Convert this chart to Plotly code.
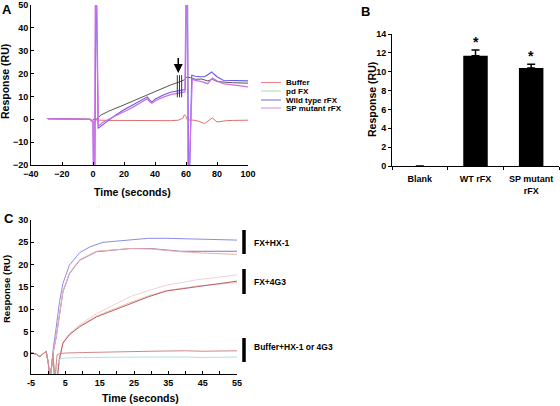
import plotly.graph_objects as go

W, H = 560, 406
FONT = "Liberation Sans"

def px(x):
    return x / W

def py(y):
    return 1 - y / H

# ---------------- Panel A data ----------------
buffer_t = [-30, -20, -10, -2, 0, 1, 2, 5, 10, 20, 30, 40, 50, 55, 58, 59, 60, 61, 62, 65, 68, 72, 75, 77, 80, 83, 86, 90, 95, 100]
buffer_v = [0.3, 0.2, 0.2, 0.1, -0.5, 0, -0.3, -0.4, -0.5, -0.5, -0.6, -0.8, -0.6, -0.4, 0.5, 2.0, 1.2, -0.5, -0.3, -0.4, -0.8, -1.9, -0.5, 0.6, -1.2, -0.8, -0.6, -0.5, -0.5, -0.4]

pdfx_t = [0, 2.4, 5, 10, 20, 30, 41, 50, 56, 59, 60.5, 63, 66, 70, 74, 77, 80, 85, 90, 100]
pdfx_v = [0, 0.2, 1.8, 3.5, 6.3, 9.2, 12.5, 15.0, 16.4, 17.3, 18.5, 18.2, 17.5, 17.6, 16.8, 17.5, 16.5, 16.2, 16.0, 15.8]

wt_t = [-29, -10, -2, -0.5, 0, 0.3, 1.2, 1.8, 2.2, 3.3, 6, 10, 15, 20, 25, 30, 35, 36.5, 38, 40, 45, 50, 54, 58.5, 59.5, 60.3, 61, 61.6, 62.3, 63.7, 66, 69, 72, 74, 76.6, 78, 80, 84, 90, 95, 100]
wt_v = [0.2, 0.1, 0, -1, -1, -25, -25, 55, 55, -4, -2.5, -0.5, 2, 4.2, 6, 7.8, 9.8, 8.5, 7.5, 8.8, 10.5, 11.8, 12.3, 12.8, 13, 55, 55, -25, -25, 19.3, 18.8, 18.6, 18.6, 19.5, 20.7, 19.8, 18.6, 17.1, 17, 17, 16.8]

sp_t = [-29, -10, -2, -0.5, 0, 0.4, 1.0, 1.5, 2.3, 3.5, 6, 10, 15, 20, 25, 30, 35, 36.5, 38, 40, 45, 50, 54, 58.5, 59.3, 60, 60.8, 61.3, 62, 64, 66, 70, 74, 77, 80, 84, 90, 95, 100]
sp_v = [0.3, 0.2, 0, -1, -1, -25, -25, 55, 55, -3, -1.5, 0, 1.5, 3.3, 5, 7, 9, 7.8, 7, 8, 9.6, 10.8, 11.3, 11.8, 12, 55, 55, -25, -25, 17.6, 17, 16.5, 15.6, 18, 16.8, 15.6, 15, 14.6, 14.2]

legend_names = ["Buffer", "pd FX", "Wild type rFX", "SP mutant rFX"]
legend_colors = ["#f08080", "#a8d8a0", "#6a6ae0", "#e080f0"]

# ---------------- Panel B data ----------------
b_cats = ["Blank", "WT rFX", "SP mutant<br>rFX"]
b_vals = [0, 11.7, 10.4]
b_errs = [None, 0.6, 0.4]
b_sig = ["", "*", "*"]

# ---------------- Panel C data ----------------
pre_t = [-5, -4.2, -3.4, -2.4, -1.4, -0.6, 0.05, 0.5, 1.0]
pre_v = [0.3, 0.1, -0.1, -0.6, 0.2, 0.6, -2.1, -6, -2.8]

hx1_t = pre_t + [1.5, 2.3, 3.3, 4.3, 6.2, 9.2, 12.2, 16, 23.8, 29.2, 34.5, 43.3, 55]
hx1_v = pre_v + [1.3, 5.7, 11.7, 15.8, 19.9, 22.7, 24.0, 25.0, 25.6, 25.9, 25.9, 25.7, 25.5]

hx2_t = pre_t + [1.5, 2.3, 3.3, 4.3, 6.2, 9.2, 14.1, 19.9, 23.8, 30, 38.4, 45, 55]
hx2_v = pre_v + [0.5, 3.5, 9.0, 13.9, 18.0, 21.0, 22.9, 23.4, 23.6, 23.6, 23.0, 23.0, 23.0]

hx3_t = pre_t + [1.5, 2.3, 3.3, 4.3, 6.2, 9.2, 14.1, 19.9, 23.8, 30, 38.4, 45, 55]
hx3_v = pre_v + [0.5, 3.6, 9.2, 14.0, 18.1, 21.1, 23.0, 23.4, 23.6, 23.5, 22.9, 22.6, 22.3]

g4_t = pre_t + [1.4, 1.9, 2.6, 3.2, 4.3, 6.2, 9.2, 14.1, 19, 23.8, 29.2, 34.5, 43.3, 55]
g4a_v = pre_v + [0, -6, -6, -1.5, 2.4, 4.3, 6.1, 8.3, 9.8, 11.3, 12.8, 14.1, 15.1, 16.3]
g4b_v = pre_v + [0, -6, -6, -1.3, 2.6, 4.6, 6.6, 9.0, 10.9, 12.8, 14.2, 15.4, 16.6, 17.7]
g4c_v = pre_v + [0, -6, -6, -1.4, 2.5, 4.4, 6.3, 8.5, 10.1, 11.5, 13.0, 14.2, 15.2, 16.0]

buf_t = pre_t + [1.4, 1.9, 2.6, 3.5, 5, 10, 20, 30, 40, 45, 55]
bufa_v = pre_v + [0, -6, -0.2, 0.1, 0.2, 0.3, 0.5, 0.6, 0.7, 0.6, 0.7]
bufb_v = pre_v + [0, -6, -2.5, -1.1, -0.9, -0.8, -0.7, -0.7, -0.7, -0.8, -0.7]

c_series = [
    (hx1_t, hx1_v, "#8c8ce8"),
    (hx2_t, hx2_v, "#9a6ab8"),
    (hx3_t, hx3_v, "#e8b0b0"),
    (g4_t, g4b_v, "#f4d0d8"),
    (g4_t, g4c_v, "#f0c8a8"),
    (g4_t, g4a_v, "#b86070"),
    (buf_t, bufb_v, "#b0e0e0"),
    (buf_t, bufa_v, "#d08888"),
]
c_groups = ["FX+HX-1", "FX+4G3", "Buffer+HX-1 or 4G3"]

fig = go.Figure()

# Panel A traces
fig.add_trace(go.Scatter(x=buffer_t, y=buffer_v, mode="lines", line=dict(color="#e07070", width=1), xaxis="x", yaxis="y", showlegend=False))
fig.add_trace(go.Scatter(x=pdfx_t, y=pdfx_v, mode="lines", line=dict(color="#555555", width=1), xaxis="x", yaxis="y", showlegend=False))
fig.add_trace(go.Scatter(x=wt_t, y=wt_v, mode="lines", line=dict(color="#6a5ae0", width=1.1), xaxis="x", yaxis="y", showlegend=False))
fig.add_trace(go.Scatter(x=sp_t, y=sp_v, mode="lines", line=dict(color="#d070e8", width=1.3), xaxis="x", yaxis="y", showlegend=False))

# Panel B
fig.add_trace(go.Bar(x=b_cats, y=b_vals, marker=dict(color="black", line=dict(width=0)), width=0.44,
                     error_y=dict(type="data", array=b_errs, arrayminus=[None, 0, 0], color="black", thickness=1.5, width=4),
                     xaxis="x2", yaxis="y2", showlegend=False))

# Panel C
for t, v, col in c_series:
    fig.add_trace(go.Scatter(x=t, y=v, mode="lines", line=dict(color=col, width=1), xaxis="x3", yaxis="y3", showlegend=False))

tickfont = dict(family=FONT, size=9, color="black", weight="bold")
axis_common = dict(showline=True, linecolor="black", linewidth=1, showgrid=False, zeroline=False, automargin=False,
                   tickfont=tickfont, tickcolor="black", ticklen=3, tickwidth=1)

fig.update_layout(
    width=W, height=H, margin=dict(l=0, r=0, t=0, b=0, autoexpand=False),
    paper_bgcolor="white", plot_bgcolor="white", hovermode=False,
    xaxis=dict(domain=[px(31), px(248)], range=[-40, 100], tickvals=list(range(-40, 101, 20)), ticks="inside", anchor="y", **axis_common),
    yaxis=dict(domain=[py(165), py(5)], range=[-20, 50], tickvals=list(range(-20, 51, 10)), ticks="inside", anchor="x", **axis_common),
    xaxis2=dict(domain=[px(392), px(559)], type="category", range=[-0.5, 2.5], ticks="outside", tickson="boundaries",
                ticklabelstandoff=4, anchor="y2", **axis_common),
    yaxis2=dict(domain=[py(166), py(34)], range=[0, 14], tickvals=list(range(0, 15, 2)), ticks="outside", anchor="x2", **axis_common),
    xaxis3=dict(domain=[px(31), px(237)], range=[-5, 55], tickvals=list(range(-5, 56, 5)),
                ticktext=[str(v) if (v + 5) % 10 == 0 else "" for v in range(-5, 56, 5)], ticks="inside", anchor="y3", **axis_common),
    yaxis3=dict(domain=[py(374), py(220)], range=[-4.5, 30], tickvals=list(range(0, 31, 5)), ticks="inside", anchor="x3", **axis_common),
)

ann = []
def text(x, y, s, size=9, xanchor="center", yanchor="middle", angle=0):
    ann.append(dict(x=px(x), y=py(y), xref="paper", yref="paper", text=s, showarrow=False,
                    xanchor=xanchor, yanchor=yanchor, textangle=angle,
                    font=dict(family=FONT, size=size, color="black", weight="bold")))

# panel letters
text(0, 9, "A", size=13, xanchor="left")
text(359, 11, "B", size=13, xanchor="left")
text(2, 218, "C", size=13, xanchor="left")

# axis titles
text(5, 82, "Response (RU)", size=10.5, angle=-90)
text(132, 192, "Time (seconds)", size=10.5)
text(372, 100, "Response (RU)", size=10.5, angle=-90)
text(6, 289, "Response (RU)", size=9.5, angle=-90)
text(140, 398, "Time (seconds)", size=10.5)

# asterisks
for c, v, e, s in zip(b_cats, b_vals, b_errs, b_sig):
    if s:
        ann.append(dict(x=c, y=v + e, xref="x2", yref="y2", text=s, showarrow=False, yanchor="bottom", yshift=-2,
                        font=dict(family=FONT, size=14, color="black", weight="bold")))

# arrow in panel A
ann.append(dict(x=55, y=20.3, xref="x", yref="y", ax=55, ay=27.5, axref="x", ayref="y", showarrow=True,
                arrowhead=2, arrowsize=1.2, arrowwidth=1.5, arrowcolor="black", text=""))

shapes = []
for xv in [54.4, 55.8, 57.2]:
    shapes.append(dict(type="line", xref="x", yref="y", x0=xv, x1=xv, y0=9.6, y1=19.3, line=dict(color="#333333", width=1)))

# legend panel A
leg_y = [82.5, 91, 100, 108]
for name, col, yy in zip(legend_names, legend_colors, leg_y):
    shapes.append(dict(type="line", xref="paper", yref="paper", x0=px(261), x1=px(281), y0=py(yy), y1=py(yy), line=dict(color=col, width=1)))
    text(284, yy, name, size=8, xanchor="left")

# group bars in panel C
bars = [(230, 254, 243), (269, 294, 282), (338, 362, 347)]
for (y0, y1, ly), lab in zip(bars, c_groups):
    shapes.append(dict(type="line", xref="paper", yref="paper", x0=px(244), x1=px(244), y0=py(y0), y1=py(y1), line=dict(color="black", width=3.5)))
    text(252, ly, lab, size=8.5, xanchor="left")

fig.update_layout(annotations=ann, shapes=shapes)
fig.write_html("out.html", config={"displayModeBar": False, "staticPlot": True},
               post_script="document.body.style.margin='0';document.body.style.overflow='hidden';")
